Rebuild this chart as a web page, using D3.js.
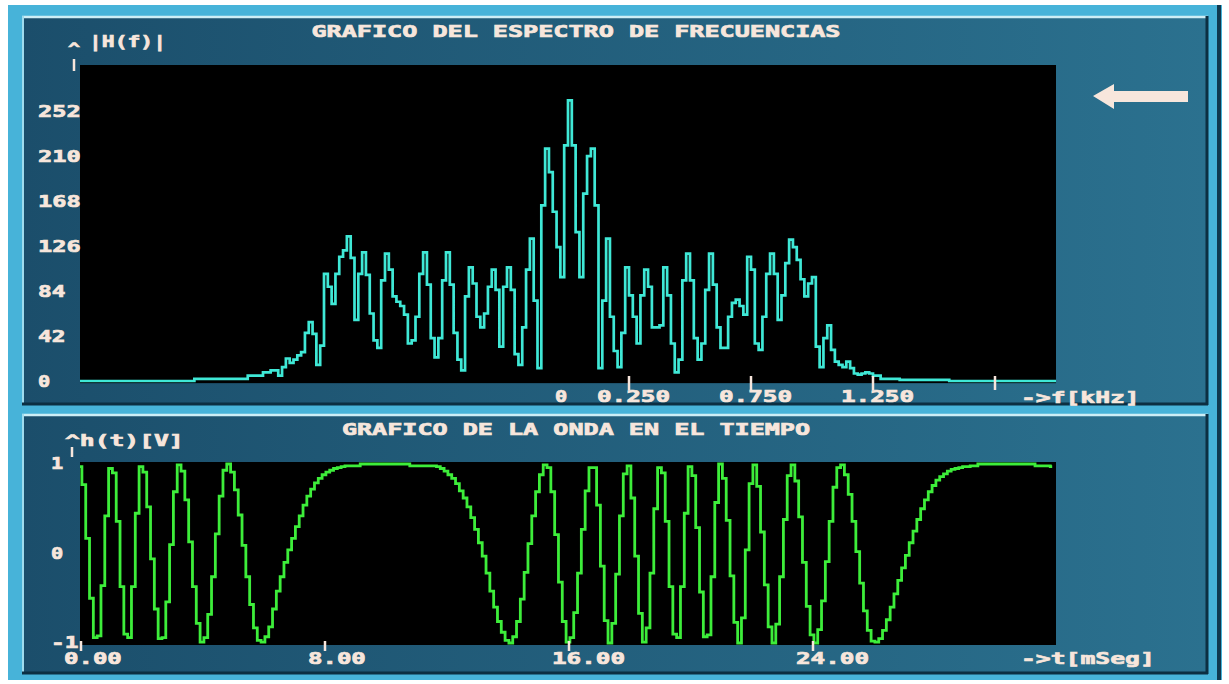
<!DOCTYPE html>
<html><head><meta charset="utf-8">
<script src="https://cdn.jsdelivr.net/npm/d3@7"></script>
<style>html,body{margin:0;padding:0;background:#fff;overflow:hidden}</style>
</head><body><svg id="c" width="1229" height="684"></svg>
<script>
// ---------- DATA ----------
// |H(f)| magnitude, 256 bins from -2 kHz to +2 kHz
const spectrumMag = [
0,0,0,0,0,0,0,0,0,0,
0,0,0,0,0,0,0,0,0,0,
0,0,0,0,0,0,0,0,0,0,
2,2,2,2,2,2,2,2,2,2,
2,2,2,2,5,5,5,5,8,8,
10,10,5,13,21,17,20,24,27,45,
55,44,15,33,100,88,72,100,116,122,
135,115,57,100,120,99,63,38,31,94,
119,104,79,74,70,62,35,38,60,100,
120,90,40,22,40,94,120,90,45,20,
10,79,106,91,60,50,63,88,104,85,
32,88,106,85,25,15,50,104,133,75,
12,164,217,195,158,125,97,220,262,220,
139,97,175,210,217,164,12,75,133,60,
28,13,45,106,80,60,35,80,104,88,
50,50,52,106,80,35,8,20,94,119,
94,40,20,35,85,119,90,50,31,31,
60,73,76,70,62,116,104,35,29,60,
100,119,100,57,80,110,132,125,113,95,
79,91,97,32,13,40,52,29,18,15,
13,18,12,7,6,7,8,7,5,5,
2,2,2,2,2,1,1,1,1,1,
1,1,1,1,1,1,1,1,0,0,
0,0,0,0,0,0,0,0,0,0,
0,0,0,0,0,0,0,0,0,0,
0,0,0,0,0,0];
const freqStart = -2, freqStep = 4/256;

// h(t) in volts, 256 samples, 0.125 ms apart
const waveValues = [
0.97,0.77,0.17,-0.50,-0.94,-0.92,-0.36,0.42,0.95,0.90,
0.36,-0.37,-0.90,-0.94,-0.37,0.45,0.97,0.91,0.52,-0.06,
-0.62,-0.95,-0.94,-0.54,0.10,0.69,0.99,0.92,0.60,0.13,
-0.37,-0.78,-0.99,-0.94,-0.68,-0.26,0.22,0.64,0.93,1.00,
0.91,0.71,0.43,0.09,-0.26,-0.57,-0.83,-0.97,-0.99,-0.93,
-0.82,-0.62,-0.42,-0.26,-0.10,0.04,0.17,0.30,0.42,0.54,
0.64,0.72,0.79,0.84,0.88,0.91,0.93,0.95,0.96,0.97,
0.98,0.98,0.98,0.98,1.00,1.00,1.00,1.00,1.00,1.00,
1.00,1.00,1.00,1.00,1.00,1.00,1.00,0.98,0.98,0.98,
0.98,0.98,0.98,0.98,0.97,0.95,0.92,0.88,0.84,0.78,
0.70,0.62,0.52,0.40,0.27,0.12,-0.03,-0.22,-0.42,-0.60,
-0.76,-0.88,-0.97,-1.00,-0.93,-0.76,-0.51,-0.21,0.11,0.42,
0.69,0.88,0.99,0.96,0.69,0.21,-0.32,-0.76,-0.99,-0.94,
-0.66,-0.22,0.27,0.70,0.96,0.96,0.54,-0.14,-0.75,-1.00,
-0.78,-0.23,0.42,0.89,0.98,0.62,-0.03,-0.67,-0.99,-0.83,
-0.22,0.50,0.96,0.90,0.36,-0.37,-0.90,-0.94,-0.37,0.45,
0.97,0.87,0.29,-0.43,-0.93,-0.91,-0.26,0.57,1.00,0.84,
0.37,-0.25,-0.77,-1.00,-0.72,0.04,0.78,0.99,0.75,0.24,
-0.35,-0.82,-1.00,-0.79,-0.26,0.38,0.87,0.99,0.81,0.41,
-0.10,-0.59,-0.91,-1.00,-0.85,-0.53,-0.09,0.36,0.74,0.96,
0.99,0.88,0.66,0.36,0.02,-0.33,-0.64,-0.86,-0.98,-0.99,
-0.95,-0.86,-0.74,-0.60,-0.45,-0.30,-0.16,-0.02,0.12,0.25,
0.38,0.50,0.60,0.69,0.76,0.82,0.86,0.89,0.92,0.94,
0.95,0.96,0.97,0.97,0.98,0.98,1.00,1.00,1.00,1.00,
1.00,1.00,1.00,1.00,1.00,1.00,1.00,1.00,1.00,1.00,
1.00,0.98,0.98,0.98,0.98,0.97];
const timeStep = 0.125;

const specYTicks = [0,42,84,126,168,210,252];
const specXLabelValues = [0,0.25,0.75,1.25];
const specXLabelTexts = ["0","0.250","0.750","1.250"];
const specXTickMarks = [0.25,0.75,1.25,1.75];
const waveYTicks = [1,0,-1];
const waveYLabels = ["1","0","-1"];
const waveXTicks = [0,8,16,24];
const waveXLabels = ["0.00","8.00","16.00","24.00"];

const specTitle = "GRAFICO DEL ESPECTRO DE FRECUENCIAS";
const waveTitle = "GRAFICO DE LA ONDA EN EL TIEMPO";

// ---------- DRAW ----------
const svg = d3.select("#c");
const TXT = "#f7e6dc";
const defs = svg.append("defs");
const gr = defs.append("linearGradient").attr("id","pg").attr("x1","0").attr("x2","1").attr("y1","0").attr("y2","0");
gr.append("stop").attr("offset","0").attr("stop-color","#1b4e6b");
gr.append("stop").attr("offset","1").attr("stop-color","#2b718f");

// screen frame
svg.append("rect").attr("x",0).attr("y",0).attr("width",1229).attr("height",684).attr("fill","#ffffff");
svg.append("rect").attr("x",8).attr("y",5).attr("width",1214).attr("height",675).attr("fill","#47b3d9");
svg.append("rect").attr("x",1217).attr("y",5).attr("width",4).attr("height",675).attr("fill","#10394f");

function panel(y0, y1){
  svg.append("rect").attr("x",22).attr("y",y0).attr("width",1186).attr("height",y1-y0).attr("fill","url(#pg)");
  svg.append("line").attr("x1",22).attr("x2",1208).attr("y1",y0+1).attr("y2",y0+1).attr("stroke","#cdeef6").attr("stroke-width",2.5);
  svg.append("line").attr("x1",23).attr("x2",23).attr("y1",y0).attr("y2",y1).attr("stroke","#9fdcee").attr("stroke-width",2);
  svg.append("line").attr("x1",22).attr("x2",1208).attr("y1",y1-1).attr("y2",y1-1).attr("stroke","#0c2f42").attr("stroke-width",3);
  svg.append("line").attr("x1",1207).attr("x2",1207).attr("y1",y0).attr("y2",y1).attr("stroke","#0c2f42").attr("stroke-width",3);
}
panel(16, 405);
panel(414, 674);

function label(s, x, y, anchor, len){
  return svg.append("text").attr("x",x).attr("y",y)
    .attr("text-anchor",anchor||"start")
    .attr("textLength", len || (s.length*15.2-3))
    .attr("lengthAdjust","spacingAndGlyphs")
    .attr("font-family","'DejaVu Sans Mono', monospace")
    .attr("font-weight","bold").attr("font-size",16).attr("fill",TXT)
    .attr("stroke",TXT).attr("stroke-width",0.7)
    .text(s);
}

// ----- spectrum -----
const xF = d3.scaleLinear().domain([-2,2]).range([80,1056]);
const yF = d3.scaleLinear().domain([0,295]).range([381,65]);
svg.append("rect").attr("x",xF(-2)).attr("y",yF(295)).attr("width",xF(2)-xF(-2)).attr("height",yF(-2)-yF(295)).attr("fill","#000");

const specPts = spectrumMag.map((v,i)=>[freqStart+i*freqStep, v]);
specPts.push([2, spectrumMag[spectrumMag.length-1]]);
svg.append("path").datum(specPts)
  .attr("d", d3.line().x(d=>xF(d[0])).y(d=>yF(d[1])).curve(d3.curveStepAfter))
  .attr("fill","none").attr("stroke","#3fe8d6").attr("stroke-width",2.7);

label(specTitle, 576, 37, "middle");
label("|H(f)|", 89, 47, "start", 77);
label("^", 68, 54, "start", 12);
svg.append("line").attr("x1",74).attr("x2",74).attr("y1",59).attr("y2",71).attr("stroke",TXT).attr("stroke-width",2.5);
specYTicks.forEach(v=> label(String(v), 38, yF(v)+6));
specXLabelValues.forEach((v,i)=>{
  const s = specXLabelTexts[i];
  label(s, s.length===1 ? xF(v)-13 : xF(v)-32, 402);
});
specXTickMarks.forEach(v=>{
  svg.append("line").attr("x1",xF(v)).attr("x2",xF(v)).attr("y1",376).attr("y2",390).attr("stroke",TXT).attr("stroke-width",2.5);
});
label("->f[kHz]", 1021, 403);

// arrow
svg.append("path").attr("d","M1093,96 L1114,84 L1114,91 L1188,91 L1188,102 L1114,102 L1114,109 Z").attr("fill",TXT);

// ----- waveform -----
const xT = d3.scaleLinear().domain([0,32]).range([80,1056]);
const yT = d3.scaleLinear().domain([-1,1]).range([643,464]);
svg.append("rect").attr("x",xT(0)).attr("y",462).attr("width",xT(32)-xT(0)).attr("height",183).attr("fill","#000");
const wavePts = waveValues.map((v,i)=>[i*timeStep, v]);
svg.append("path").datum(wavePts)
  .attr("d", d3.line().x(d=>xT(d[0])).y(d=>yT(d[1])).curve(d3.curveStep))
  .attr("fill","none").attr("stroke","#3ded3a").attr("stroke-width",2.8);

label(waveTitle, 576, 435, "middle");
label("^h(t)[V]", 65, 446);
svg.append("line").attr("x1",72).attr("x2",72).attr("y1",447).attr("y2",457).attr("stroke",TXT).attr("stroke-width",2.5);
waveYTicks.forEach((v,i)=> label(waveYLabels[i], 51, yT(v)+5));
waveXTicks.forEach((v,i)=>{
  label(waveXLabels[i], xT(v)-16, 664);
  svg.append("line").attr("x1",xT(v)+1).attr("x2",xT(v)+1).attr("y1",641).attr("y2",651).attr("stroke",TXT).attr("stroke-width",2.5);
});
label("->t[mSeg]", 1021, 664);
</script></body></html>
